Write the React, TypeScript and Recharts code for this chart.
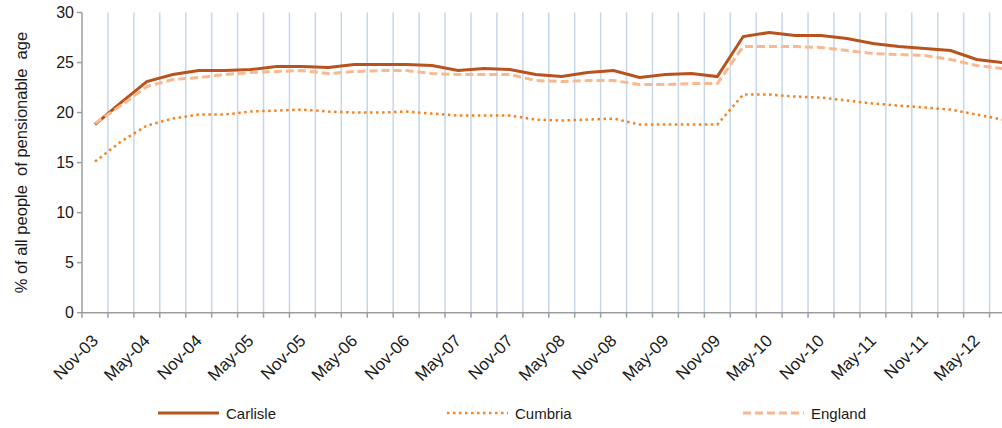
import {LineChart, Line, XAxis, YAxis, CartesianGrid, Legend} from 'recharts';

// quarterly periods, Nov-03 .. Aug-12
const periods = [
    'Nov-03', 'Feb-04', 'May-04', 'Aug-04', 'Nov-04', 'Feb-05', 'May-05', 'Aug-05', 'Nov-05',
    'Feb-06', 'May-06', 'Aug-06', 'Nov-06', 'Feb-07', 'May-07', 'Aug-07', 'Nov-07', 'Feb-08',
    'May-08', 'Aug-08', 'Nov-08', 'Feb-09', 'May-09', 'Aug-09', 'Nov-09', 'Feb-10', 'May-10',
    'Aug-10', 'Nov-10', 'Feb-11', 'May-11', 'Aug-11', 'Nov-11', 'Feb-12', 'May-12', 'Aug-12',
];

const carlisle = [
    18.8, 21.0, 23.1, 23.8, 24.2, 24.2, 24.3, 24.6, 24.6, 24.5, 24.8, 24.8,
    24.8, 24.7, 24.2, 24.4, 24.3, 23.8, 23.6, 24.0, 24.2, 23.5, 23.8, 23.9,
    23.6, 27.6, 28.0, 27.7, 27.7, 27.4, 26.9, 26.6, 26.4, 26.2, 25.3, 25.0,
];

const cumbria = [
    15.1, 17.1, 18.7, 19.4, 19.8, 19.8, 20.1, 20.2, 20.3, 20.1, 20.0, 20.0,
    20.1, 19.9, 19.7, 19.7, 19.7, 19.3, 19.2, 19.3, 19.4, 18.8, 18.8, 18.8,
    18.8, 21.8, 21.8, 21.6, 21.5, 21.2, 20.9, 20.7, 20.5, 20.3, 19.8, 19.3,
];

const england = [
    18.9, 20.7, 22.6, 23.3, 23.5, 23.8, 24.0, 24.1, 24.2, 23.9, 24.1, 24.2,
    24.2, 23.9, 23.8, 23.8, 23.8, 23.2, 23.1, 23.2, 23.2, 22.8, 22.8, 22.9,
    22.9, 26.6, 26.6, 26.6, 26.5, 26.2, 25.9, 25.8, 25.7, 25.3, 24.7, 24.4,
];

const yTicks = [0, 5, 10, 15, 20, 25, 30];

const data = periods.map((period, i) => ({
    period,
    Carlisle: carlisle[i],
    Cumbria: cumbria[i],
    England: england[i],
}));

const FONT = '"Liberation Sans", Arial, sans-serif';
const AXIS = '#9d9d9d';
const GRID = '#c6d6ea';

const series = [
    {key: 'Carlisle', color: '#b9531d', width: 3, dash: undefined},
    {key: 'Cumbria', color: '#f58220', width: 2.5, dash: '2.5 3.5'},
    {key: 'England', color: '#f9b88e', width: 3, dash: '8 4'},
];

const legendLeft = [158, 447, 743];

function PeriodTick(props: any) {
    const {x, y, payload} = props;
    const idx = payload?.index ?? props.index ?? 0;
    const half = payload?.offset ?? 0;
    const bx = x - half;
    const ty = y + 20;
    return (
        <g>
            <line x1={bx} y1={y - 5} x2={bx} y2={y} stroke={AXIS} strokeWidth={1.5}/>
            {idx % 2 === 0 && (
                <text
                    x={x}
                    y={ty}
                    dy="0.35em"
                    textAnchor="end"
                    transform={`rotate(-45 ${x} ${ty})`}
                    fontFamily={FONT}
                    fontSize={17}
                    fill="#1a1a1a"
                >
                    {payload.value}
                </text>
            )}
        </g>
    );
}

function YLabel(props: any) {
    const vb = props.viewBox || {x: 0, y: 12.5, width: 82, height: 300};
    const cx = vb.x + 21;
    const cy = vb.y + vb.height / 2;
    return (
        <text
            x={cx}
            y={cy}
            dy="0.35em"
            textAnchor="middle"
            transform={`rotate(-90 ${cx} ${cy})`}
            fontFamily={FONT}
            fontSize={16.5}
            fill="#1a1a1a"
        >
            {'% of all people\u00a0 of pensionable\u00a0 age'}
        </text>
    );
}

function LegendBox() {
    return (
        <div style={{position: 'relative', width: 1002, height: 30, fontFamily: FONT, fontSize: 15, color: '#1a1a1a'}}>
            {series.map((s, i) => (
                <div
                    key={s.key}
                    style={{position: 'absolute', left: legendLeft[i], top: 0, height: 30, display: 'flex', alignItems: 'center'}}
                >
                    <svg width={61} height={8} style={{marginRight: 7}}>
                        <line x1={0} y1={4} x2={61} y2={4} stroke={s.color} strokeWidth={s.width} strokeDasharray={s.dash}/>
                    </svg>
                    <span>{s.key}</span>
                </div>
            ))}
        </div>
    );
}

export default function App() {
    const n = periods.length;
    return (
        <div style={{position: 'fixed', left: 0, top: 0, width: 1002, height: 428, overflow: 'hidden', background: '#fff'}}>
            <LineChart
                width={1030}
                height={428}
                data={data}
                margin={{top: 12.5, right: 14.5, left: 0, bottom: 0}}
            >
                <CartesianGrid
                    horizontal={false}
                    stroke={GRID}
                    strokeWidth={1.5}
                    verticalCoordinatesGenerator={({offset}: any) => {
                        const out: number[] = [];
                        for (let k = 1; k < n; k++) out.push(offset.left + (k * offset.width) / n);
                        return out;
                    }}
                />
                <XAxis
                    dataKey="period"
                    scale="band"
                    interval={0}
                    height={85.3}
                    tickSize={5}
                    tickMargin={0}
                    tickLine={false}
                    axisLine={{stroke: AXIS, strokeWidth: 1.5}}
                    tick={<PeriodTick/>}
                />
                <YAxis
                    domain={[0, 30]}
                    ticks={yTicks}
                    width={82}
                    tickSize={5}
                    tickMargin={3}
                    axisLine={{stroke: AXIS, strokeWidth: 1.5}}
                    tickLine={{stroke: AXIS, strokeWidth: 1.5}}
                    tick={{fontFamily: FONT, fontSize: 16, fill: '#1a1a1a'}}
                    label={<YLabel/>}
                />
                <Legend verticalAlign="bottom" height={30} content={<LegendBox/>} wrapperStyle={{left: 0, bottom: 0, width: 1002}}/>
                {series.map((s) => (
                    <Line
                        key={s.key}
                        type="linear"
                        dataKey={s.key}
                        stroke={s.color}
                        strokeWidth={s.width}
                        strokeDasharray={s.dash}
                        dot={false}
                        activeDot={false}
                        isAnimationActive={false}
                    />
                ))}
            </LineChart>
        </div>
    );
}
